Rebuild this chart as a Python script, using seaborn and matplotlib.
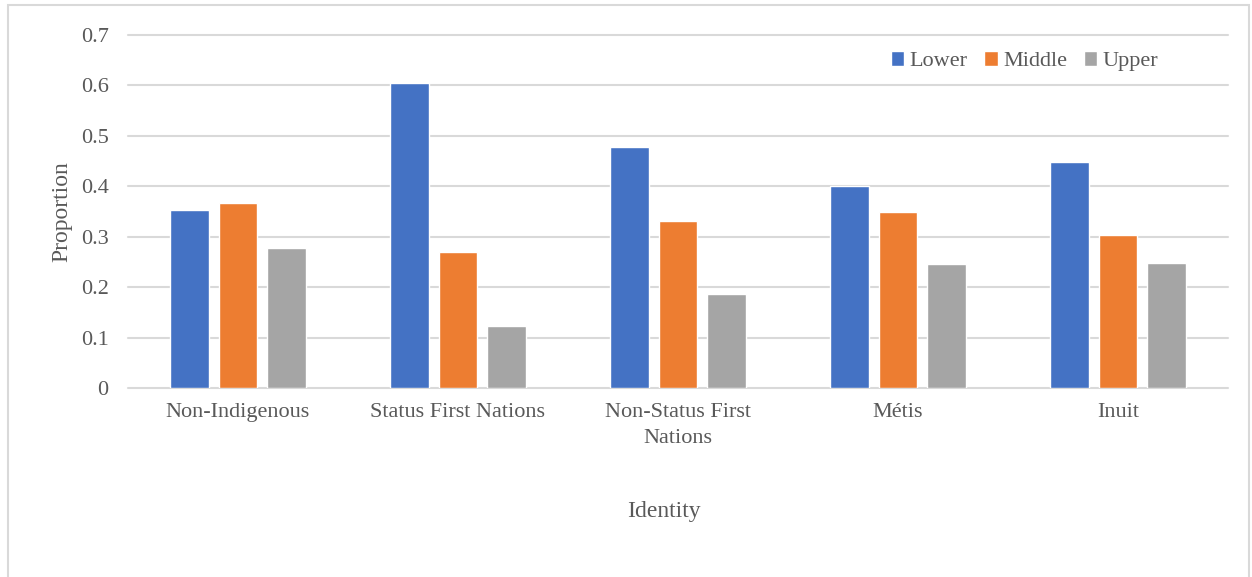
import pandas as pd
import matplotlib
matplotlib.use("Agg")
import matplotlib.pyplot as plt
import seaborn as sns
from matplotlib.patches import Rectangle

# values
identities = ["Non-Indigenous", "Status First Nations", "Non-Status First\nNations", "Métis", "Inuit"]
classes = ["Lower", "Middle", "Upper"]
lower = [0.353, 0.605, 0.478, 0.401, 0.448]
middle = [0.367, 0.270, 0.331, 0.349, 0.304]
upper = [0.278, 0.123, 0.187, 0.246, 0.248]
colors = ["#4472C4", "#ED7D31", "#A5A5A5"]

df = pd.DataFrame({"Identity": identities, "Lower": lower, "Middle": middle, "Upper": upper})
df = df.melt(id_vars="Identity", var_name="Class", value_name="Proportion")

sns.set_theme(style="white")
plt.rcParams["font.family"] = ["Liberation Serif", "DejaVu Serif"]
text_color = "#595959"
grid_color = "#D9D9D9"

fig = plt.figure(figsize=(12.52, 5.77), dpi=100)
ax = fig.add_axes([128 / 1252, 1 - 388 / 577, 1100 / 1252, 353 / 577])

sns.barplot(data=df, x="Identity", y="Proportion", hue="Class", hue_order=classes,
            palette=colors, width=0.66, gap=0.2, ax=ax, saturation=1, legend=True)

ax.set_ylim(0, 0.7)
ax.set_yticks([0, 0.1, 0.2, 0.3, 0.4, 0.5, 0.6, 0.7])
ax.set_yticklabels(["0", "0.1", "0.2", "0.3", "0.4", "0.5", "0.6", "0.7"])
for t in ax.get_yticks():
    ax.axhline(t, color=grid_color, lw=1.5, zorder=0, clip_on=False)
for s in ax.spines.values():
    s.set_visible(False)
ax.tick_params(axis="both", length=0, labelsize=16, colors=text_color)
ax.tick_params(axis="x", pad=11)
ax.tick_params(axis="y", pad=14)
for lbl in ax.get_xticklabels():
    lbl.set_linespacing(1.5)
ax.set_xlabel("Identity", fontsize=17, color=text_color, labelpad=38)
ax.set_ylabel("Proportion", fontsize=17, color=text_color, labelpad=6)
ax.xaxis.label.set_position((0.487, 0))

leg = ax.legend(ncol=3, frameon=False, loc="upper right", bbox_to_anchor=(0.955, 1.01),
                handlelength=0.6, handleheight=0.6, handletextpad=0.25, columnspacing=0.75,
                fontsize=16)
for txt in leg.get_texts():
    txt.set_color(text_color)

# outer chart border
fig.patches.append(Rectangle((8 / 1252, -0.1), 1241 / 1252, 1 - 5 / 577 + 0.1,
                             transform=fig.transFigure, fill=False,
                             edgecolor=grid_color, lw=1.5))

fig.savefig("out.png", dpi=100)
